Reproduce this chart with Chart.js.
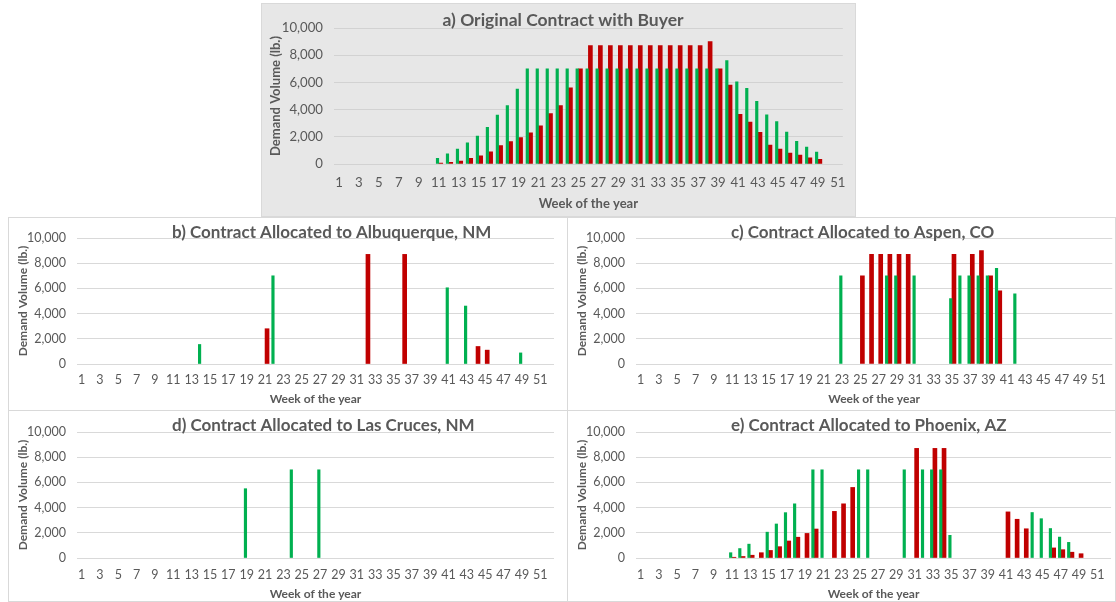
<!DOCTYPE html>
<html>
<head>
<meta charset="utf-8">
<script src="https://cdn.jsdelivr.net/npm/chart.js@4/dist/chart.umd.min.js"></script>
<style>
  body { margin: 0; background: #ffffff; width: 1116px; height: 602px; position: relative; overflow: hidden; }
  .panel { position: absolute; box-sizing: border-box; border: 1px solid #d9d9d9; background: #ffffff; }
  .panel canvas { position: absolute; left: -1px; top: -1px; }
  #panelA { left: 261px; top: 3px; width: 595px; height: 214px; background: #e7e7e7; }
  #panelB { left: 8px; top: 217px; width: 560px; height: 194px; }
  #panelC { left: 567px; top: 217px; width: 549px; height: 194px; }
  #panelD { left: 8px; top: 410px; width: 560px; height: 192px; }
  #panelE { left: 567px; top: 410px; width: 549px; height: 192px; }
</style>
</head>
<body>
<div class="panel" id="panelA"><canvas id="chartA" width="595" height="214"></canvas></div>
<div class="panel" id="panelB"><canvas id="chartB" width="560" height="194"></canvas></div>
<div class="panel" id="panelC"><canvas id="chartC" width="549" height="194"></canvas></div>
<div class="panel" id="panelD"><canvas id="chartD" width="560" height="192"></canvas></div>
<div class="panel" id="panelE"><canvas id="chartE" width="549" height="192"></canvas></div>
<script>
// Week numbers on the x axis
const weeks = [1, 2, 3, 4, 5, 6, 7, 8, 9, 10, 11, 12, 13, 14, 15, 16, 17, 18, 19, 20,
  21, 22, 23, 24, 25, 26, 27, 28, 29, 30, 31, 32, 33, 34, 35, 36, 37, 38, 39, 40,
  41, 42, 43, 44, 45, 46, 47, 48, 49, 50, 51, 52];

// a) Original contract, one value per week (null = no bar)
const originalGreen = [null, null, null, null, null, null, null, null, null, null,
  420, 750, 1100, 1550, 2050, 2700, 3600, 4300, 5500, 7000,
  7000, 7000, 7000, 7000, 7000, 7000, 7000, 7000, 7000, 7000,
  7000, 7000, 7000, 7000, 7000, 7000, 7000, 7000, 7000, 7600,
  6050, 5560, 4600, 3610, 3120, 2340, 1660, 1240, 880, null, null, null];
const originalRed = [null, null, null, null, null, null, null, null, null, null,
  60, 120, 220, 420, 600, 900, 1350, 1650, 1950, 2300,
  2800, 3700, 4300, 5600, 7000, 8700, 8700, 8700, 8700, 8700,
  8700, 8700, 8700, 8700, 8700, 8700, 8700, 9000, 7000, 5800,
  3660, 3075, 2320, 1390, 1100, 800, 660, 460, 340, null, null, null];

// b) Albuquerque, NM
const albuquerqueGreenWeeks = [14, 22, 41, 43, 49];
const albuquerqueGreenValues = [1550, 7000, 6050, 4600, 880];
const albuquerqueRedWeeks = [21, 32, 36, 44, 45];
const albuquerqueRedValues = [2800, 8700, 8700, 1390, 1100];

// c) Aspen, CO
const aspenGreenWeeks = [23, 28, 29, 31, 35, 36, 37, 38, 39, 40, 42];
const aspenGreenValues = [7000, 7000, 7000, 7000, 5200, 7000, 7000, 7000, 7000, 7600, 5560];
const aspenRedWeeks = [25, 26, 27, 28, 29, 30, 35, 37, 38, 39, 40];
const aspenRedValues = [7000, 8700, 8700, 8700, 8700, 8700, 8700, 8700, 9000, 7000, 5800];

// d) Las Cruces, NM
const lasCrucesGreenWeeks = [19, 24, 27];
const lasCrucesGreenValues = [5500, 7000, 7000];
const lasCrucesRedWeeks = [];
const lasCrucesRedValues = [];

// e) Phoenix, AZ
const phoenixGreenWeeks = [11, 12, 13, 15, 16, 17, 18, 20, 21, 25, 26, 30, 32, 33, 34, 35, 44, 45, 46, 47, 48];
const phoenixGreenValues = [420, 750, 1100, 2050, 2700, 3600, 4300, 7000, 7000, 7000, 7000, 7000, 7000, 7000, 7000, 1800, 3610, 3120, 2340, 1660, 1240];
const phoenixRedWeeks = [11, 12, 13, 14, 15, 16, 17, 18, 19, 20, 22, 23, 24, 31, 33, 34, 41, 42, 43, 46, 47, 48, 49];
const phoenixRedValues = [60, 120, 220, 420, 600, 900, 1350, 1650, 1950, 2300, 3700, 4300, 5600, 8700, 8700, 8700, 3660, 3075, 2320, 800, 660, 460, 340];

const GREEN = "#00b050";
const RED = "#c00000";
const TEXT = "#595959";
const FONT = "Lato, 'Liberation Sans', sans-serif";

Chart.defaults.font.family = FONT;

// Turn week/value pairs into one value per week
function weekSeries(weekList, valueList) {
  return weeks.map((w) => {
    const i = weekList.indexOf(w);
    return i === -1 ? null : valueList[i];
  });
}

// Draws the panel heading at a fixed spot
const panelTitle = {
  id: "panelTitle",
  afterDraw(chart, args, opts) {
    const ctx = chart.ctx;
    ctx.save();
    ctx.font = "bold " + opts.size + "px " + FONT;
    ctx.fillStyle = TEXT;
    ctx.textAlign = opts.align;
    ctx.textBaseline = "middle";
    ctx.fillText(opts.text, opts.x, opts.y);
    ctx.restore();
  },
};

function createPanelChart(canvasId, labels, greenData, redData, geo) {
  const ctx = document.getElementById(canvasId);
  return new Chart(ctx, {
    type: "bar",
    data: {
      labels: labels,
      datasets: [
        { data: greenData, backgroundColor: GREEN, barThickness: 2.5 },
        { data: redData, backgroundColor: RED, barThickness: 4 },
      ],
    },
    options: {
      responsive: false,
      animation: false,
      layout: { padding: { top: geo.top, right: geo.right, bottom: 0, left: 0 } },
      scales: {
        x: {
          grid: { display: false, drawTicks: false },
          border: { display: false },
          ticks: {
            autoSkip: false,
            maxRotation: 0,
            padding: geo.xTickPad,
            color: TEXT,
            font: { size: geo.tickSize },
            callback: function (value, index) {
              return index % 2 === 0 ? this.getLabelForValue(value) : "";
            },
          },
          title: {
            display: true,
            text: "Week of the year",
            color: TEXT,
            font: { size: geo.axisTitleSize, weight: "bold" },
            padding: { top: 0, bottom: geo.xTitlePad },
          },
          afterFit: (scale) => { scale.height = geo.xHeight; },
        },
        y: {
          min: 0,
          max: 10000,
          grid: { color: geo.gridColor, drawTicks: false },
          border: { display: false },
          ticks: {
            stepSize: 2000,
            padding: geo.yTickPad,
            color: TEXT,
            font: { size: geo.tickSize },
            callback: (value) => value.toLocaleString("en-US"),
          },
          title: {
            display: true,
            text: "Demand Volume (lb.)",
            color: TEXT,
            font: { size: geo.axisTitleSize, weight: "bold" },
            padding: { top: geo.yTitlePad, bottom: 0 },
          },
          afterFit: (scale) => { scale.width = geo.yWidth; },
        },
      },
      plugins: {
        legend: { display: false },
        tooltip: { enabled: false },
        panelTitle: { text: geo.title, x: geo.titleX, y: geo.titleY, size: geo.titleSize, align: geo.titleAlign },
      },
    },
    plugins: [panelTitle],
  });
}

// shared geometry for the four lower panels
function lowerGeo(title, right, height, top, xTickPad, xTitlePad) {
  return {
    title: title, titleX: 164, titleY: 15.5, titleSize: 17, titleAlign: "left",
    top: top, right: right, yWidth: 69, xHeight: height - 146,
    yTickPad: 11, xTickPad: xTickPad, xTitlePad: xTitlePad, yTitlePad: 7.8,
    tickSize: 12.5, axisTitleSize: 12, gridColor: "#d9d9d9",
  };
}

createPanelChart("chartA", weeks.slice(0, 51), originalGreen.slice(0, 51), originalRed.slice(0, 51), {
  title: "a) Original Contract with Buyer", titleX: 302, titleY: 17, titleSize: 17.5, titleAlign: "center",
  top: 25, right: 4, yWidth: 73, xHeight: 53,
  yTickPad: 11, xTickPad: 10.5, xTitlePad: 5.5, yTitlePad: 7.2,
  tickSize: 13.2, axisTitleSize: 13, gridColor: "#d2d2d2",
});

createPanelChart("chartB", weeks,
  weekSeries(albuquerqueGreenWeeks, albuquerqueGreenValues),
  weekSeries(albuquerqueRedWeeks, albuquerqueRedValues),
  lowerGeo("b) Contract Allocated to Albuquerque, NM", 14, 193, 21, 8.3, 4.8));

createPanelChart("chartC", weeks,
  weekSeries(aspenGreenWeeks, aspenGreenValues),
  weekSeries(aspenRedWeeks, aspenRedValues),
  lowerGeo("c) Contract Allocated to Aspen, CO", 2, 193, 21, 8.3, 4.8));

createPanelChart("chartD", weeks,
  weekSeries(lasCrucesGreenWeeks, lasCrucesGreenValues),
  weekSeries(lasCrucesRedWeeks, lasCrucesRedValues),
  lowerGeo("d) Contract Allocated to Las Cruces, NM", 14, 190, 22, 9.5, 1));

createPanelChart("chartE", weeks,
  weekSeries(phoenixGreenWeeks, phoenixGreenValues),
  weekSeries(phoenixRedWeeks, phoenixRedValues),
  lowerGeo("e) Contract Allocated to Phoenix, AZ", 2, 190, 22, 9.5, 1));
</script>
</body>
</html>
